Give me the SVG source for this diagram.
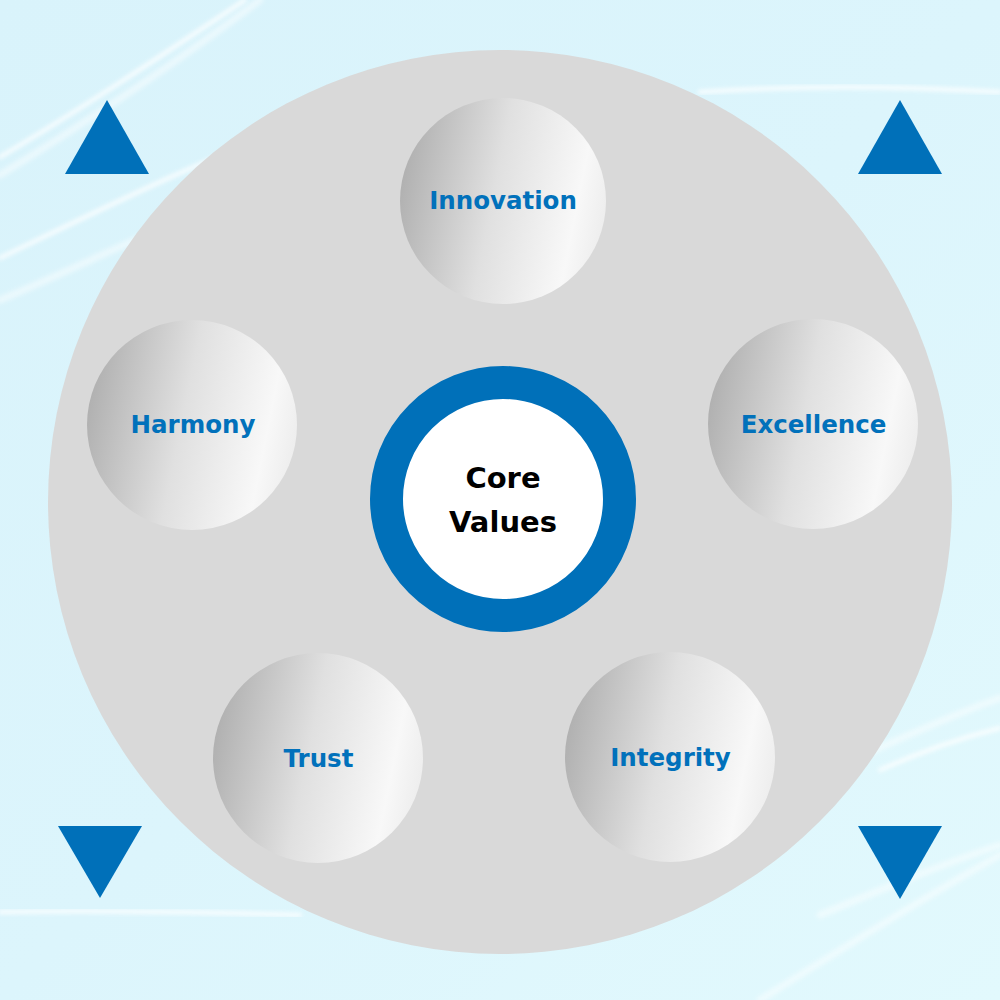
<svg xmlns="http://www.w3.org/2000/svg" width="1000" height="1000" viewBox="0 0 1000 1000">
  <defs>
    <linearGradient id="bg" x1="0" y1="0" x2="1" y2="1">
      <stop offset="0" stop-color="#d9f3fb"/>
      <stop offset="0.5" stop-color="#dcf5fc"/>
      <stop offset="1" stop-color="#e2f9fd"/>
    </linearGradient>
    <linearGradient id="ball" x1="0" y1="0.4" x2="1" y2="0.6">
      <stop offset="0" stop-color="#b0b0b0"/>
      <stop offset="0.45" stop-color="#e0e0e0"/>
      <stop offset="0.85" stop-color="#f8f8f8"/>
      <stop offset="1" stop-color="#ededed"/>
    </linearGradient>
    <filter id="soft" x="-10%" y="-50%" width="120%" height="200%">
      <feGaussianBlur stdDeviation="2"/>
    </filter>
    <style>
      .streak { fill: none; stroke: #ffffff; stroke-width: 4; stroke-linecap: round; opacity: 0.85; filter: url(#soft); }
      .streak2 { fill: none; stroke: #ffffff; stroke-width: 7; stroke-linecap: round; opacity: 0.45; filter: url(#soft); }
      .tri { fill: #0070b9; }
      .ball { fill: url(#ball); }
      .lbl { font-family: "DejaVu Sans", Inter, "Liberation Sans", sans-serif; font-weight: 700; font-size: 24.5px; fill: #0171bb; text-anchor: middle; }
      .core { font-family: "DejaVu Sans", Inter, "Liberation Sans", sans-serif; font-weight: 700; font-size: 29px; fill: #000000; text-anchor: middle; }
    </style>
  </defs>

  <!-- background -->
  <rect x="0" y="0" width="1000" height="1000" fill="url(#bg)"/>
  <g id="streaks">
    <path class="streak" d="M0,157 C80,110 170,50 245,0"/>
    <path class="streak2" d="M0,175 C90,120 180,60 260,0"/>
    <path class="streak" d="M0,258 C100,210 200,160 310,120"/>
    <path class="streak2" d="M0,300 C60,275 100,255 140,238"/>
    <path class="streak" d="M700,92 C800,85 900,86 1000,92"/>
    <path class="streak" d="M0,912 C100,910 200,912 300,915"/>
    <path class="streak2" d="M870,752 C920,730 960,712 1000,698"/>
    <path class="streak" d="M880,770 C920,752 960,738 1000,728"/>
    <path class="streak2" d="M760,1000 C840,950 920,900 1000,855"/>
    <path class="streak2" d="M820,915 C880,890 940,865 1000,845"/>
  </g>

  <!-- big disc -->
  <circle id="disc" cx="500" cy="502" r="452" fill="#d9d9d9"/>

  <!-- corner triangles -->
  <g id="triangles">
    <polygon class="tri" points="107,100 149,174 65,174"/>
    <polygon class="tri" points="900,100 942,174 858,174"/>
    <polygon class="tri" points="58,826 142,826 100,898"/>
    <polygon class="tri" points="858,826 942,826 900,899"/>
  </g>

  <g id="connectors"></g>

  <g id="core">
    <circle cx="503" cy="499" r="116.5" fill="#ffffff" stroke="#0070b9" stroke-width="33"/>
    <text class="core" x="503" y="488">Core</text>
    <text class="core" x="503" y="532">Values</text>
  </g>

  <g id="innovation">
    <circle class="ball" cx="503" cy="201" r="103"/>
    <text class="lbl" x="503" y="209">Innovation</text>
  </g>
  <g id="harmony">
    <circle class="ball" cx="192" cy="425" r="105"/>
    <text class="lbl" x="193" y="433">Harmony</text>
  </g>
  <g id="excellence">
    <circle class="ball" cx="813" cy="424" r="105"/>
    <text class="lbl" x="813.5" y="433">Excellence</text>
  </g>
  <g id="trust">
    <circle class="ball" cx="318" cy="758" r="105"/>
    <text class="lbl" x="318.5" y="767">Trust</text>
  </g>
  <g id="integrity">
    <circle class="ball" cx="670" cy="757" r="105"/>
    <text class="lbl" x="670.5" y="766">Integrity</text>
  </g>
</svg>
